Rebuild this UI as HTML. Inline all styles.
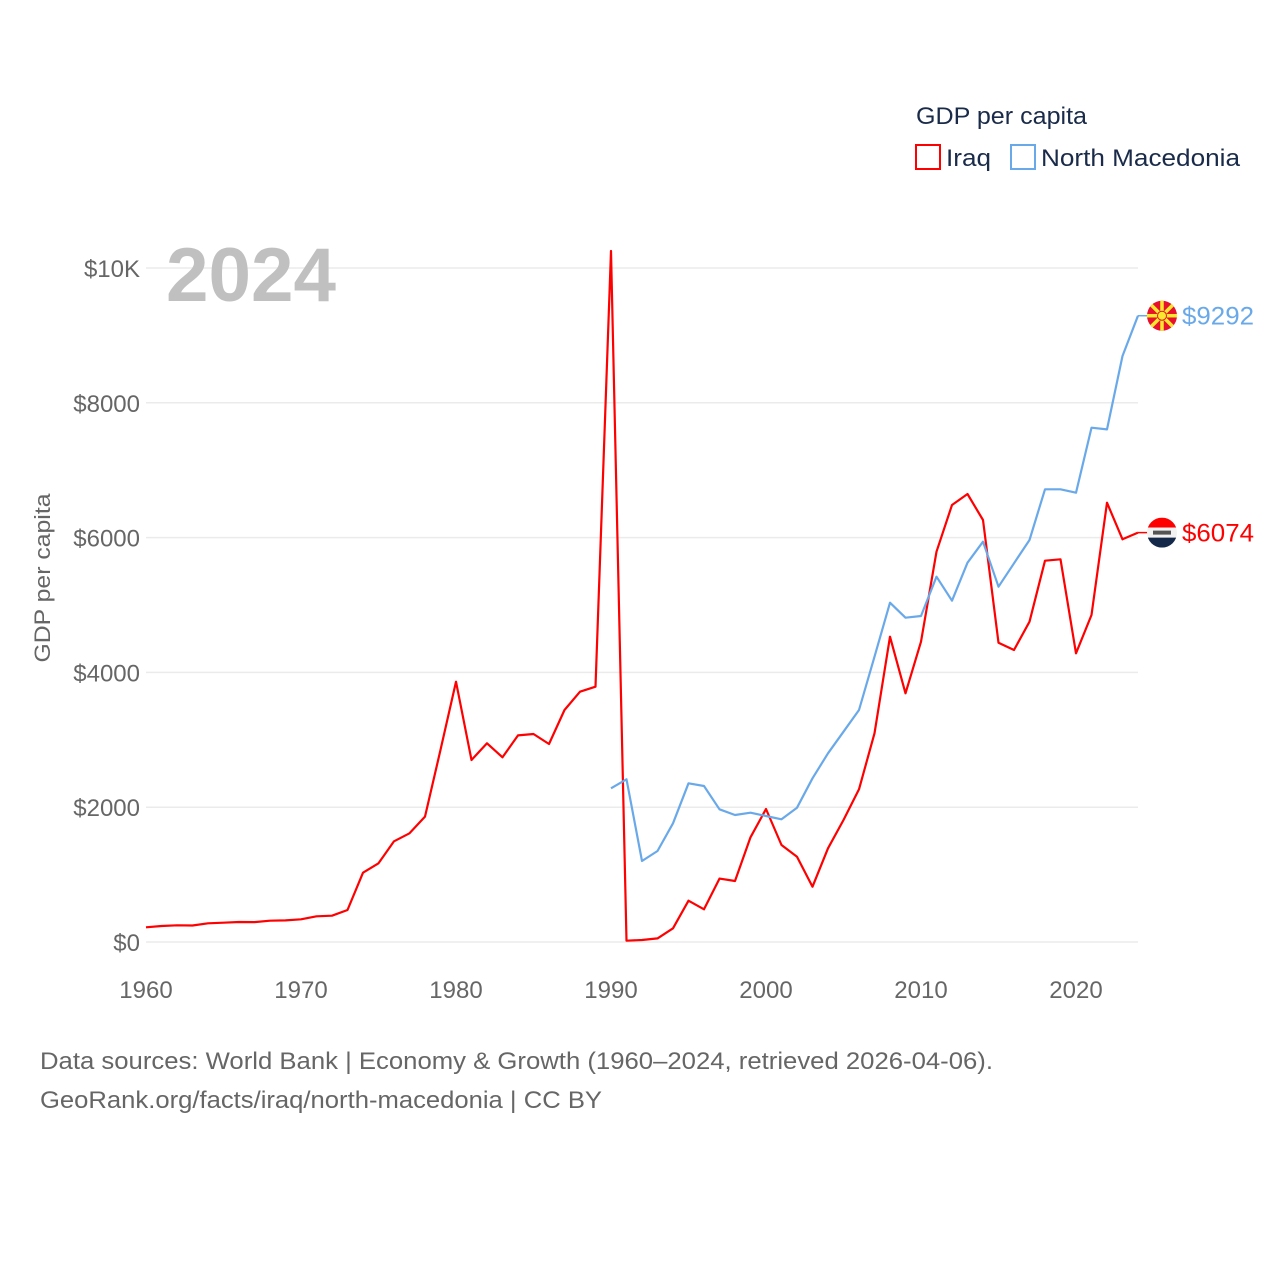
<!DOCTYPE html>
<html><head><meta charset="utf-8"><style>
html,body{margin:0;padding:0;background:#fff;}
svg{display:block;font-family:"Liberation Sans",sans-serif;}
</style></head><body>
<svg id="chart" width="1280" height="1280" viewBox="0 0 1280 1280">
<g id="grid"></g>
<g id="yticks"></g>
<g id="xticks"></g>
<text x="166" y="301" font-size="76" font-weight="bold" fill="#c0c0c0" textLength="170" lengthAdjust="spacingAndGlyphs">2024</text>
<text transform="translate(50,578) rotate(-90)" text-anchor="middle" font-size="22" fill="#666" textLength="169" lengthAdjust="spacingAndGlyphs">GDP per capita</text>
<g id="series"></g>
<g>
<text x="916" y="124" font-size="24" fill="#1a2b4a" textLength="171" lengthAdjust="spacingAndGlyphs">GDP per capita</text>
<g><rect x="916" y="145" width="24" height="24" fill="none" stroke="#f00" stroke-width="2"/><text x="946" y="166" font-size="24" fill="#1a2b4a" textLength="45" lengthAdjust="spacingAndGlyphs">Iraq</text></g>
<g><rect x="1011" y="145" width="24" height="24" fill="none" stroke="#6aa9e9" stroke-width="2"/><text x="1041" y="166" font-size="24" fill="#1a2b4a" textLength="199" lengthAdjust="spacingAndGlyphs">North Macedonia</text></g>
</g>
<text x="40" y="1069" font-size="24" fill="#666" textLength="953" lengthAdjust="spacingAndGlyphs">Data sources: World Bank | Economy &amp; Growth (1960–2024, retrieved 2026-04-06).</text>
<text x="40" y="1108" font-size="24" fill="#666" textLength="562" lengthAdjust="spacingAndGlyphs">GeoRank.org/facts/iraq/north-macedonia | CC BY</text>
</svg>
<script>
const iraqYears=[1960,1961,1962,1963,1964,1965,1966,1967,1968,1969,1970,1971,1972,1973,1974,1975,1976,1977,1978,1979,1980,1981,1982,1983,1984,1985,1986,1987,1988,1989,1990,1991,1992,1993,1994,1995,1996,1997,1998,1999,2000,2001,2002,2003,2004,2005,2006,2007,2008,2009,2010,2011,2012,2013,2014,2015,2016,2017,2018,2019,2020,2021,2022,2023,2024];
const iraqValues=[218,237,248,245,277,287,297,295,316,320,337,381,390,475,1028,1167,1494,1613,1860,2850,3862,2700,2948,2740,3066,3086,2938,3442,3714,3788,10252,20,30,54,203,613,485,940,905,1553,1973,1439,1266,821,1390,1810,2265,3096,4530,3690,4456,5791,6484,6647,6261,4441,4332,4752,5657,5678,4283,4852,6518,5975,6074];
const mkdYears=[1990,1991,1992,1993,1994,1995,1996,1997,1998,1999,2000,2001,2002,2003,2004,2005,2006,2007,2008,2009,2010,2011,2012,2013,2014,2015,2016,2017,2018,2019,2020,2021,2022,2023,2024];
const mkdValues=[2280,2414,1202,1350,1761,2355,2315,1969,1884,1919,1870,1820,1993,2429,2800,3120,3442,4233,5034,4812,4837,5420,5064,5628,5939,5272,5619,5964,6716,6716,6666,7631,7606,8694,9292];
const yTickValues=[0,2000,4000,6000,8000,10000];
const yTickLabels=["$0","$2000","$4000","$6000","$8000","$10K"];
const xTickValues=[1960,1970,1980,1990,2000,2010,2020];
const NS="http://www.w3.org/2000/svg";
const xS=y=>146+(y-1960)*15.5;
const yS=v=>942-v*0.0674;
function mk(tag,attrs,parent){const e=document.createElementNS(NS,tag);for(const k in attrs)e.setAttribute(k,attrs[k]);parent.appendChild(e);return e;}
const grid=document.getElementById('grid'),yt=document.getElementById('yticks'),xt=document.getElementById('xticks'),ser=document.getElementById('series');
yTickValues.forEach((v,i)=>{
 const l=mk('line',{x1:146,x2:1138,y1:yS(v),y2:yS(v),stroke:'#ebebeb','stroke-width':1.5},grid);
 
 
 const t=mk('text',{x:140,y:yS(v)+9,'text-anchor':'end','font-size':24,fill:'#666'},yt);
 t.textContent=yTickLabels[i];
 
 
});
xTickValues.forEach(v=>{
 const t=mk('text',{x:xS(v),y:998,'text-anchor':'middle','font-size':24,fill:'#666'},xt);
 t.textContent=v;
 
 
});
function line(years,vals,color,name){
 const d=years.map((y,i)=>(i?'L':'M')+xS(y).toFixed(1)+','+yS(vals[i]).toFixed(1)).join(' ');
 const p=mk('path',{d:d,fill:'none',stroke:color,'stroke-width':2.2,'stroke-linejoin':'round'},ser);
 
 
 const lv=vals[vals.length-1],ly=yS(lv),lx=xS(years[years.length-1]);
 const tail=mk('line',{x1:lx,x2:lx+10,y1:ly,y2:ly,stroke:color,'stroke-width':1.5},ser);
 
 
 const t=mk('text',{x:1182,y:ly+9,'font-size':25,fill:color,textLength:72,lengthAdjust:'spacingAndGlyphs'},ser);
 t.textContent='$'+lv;
 
 
 return ly;
}
const iy=line(iraqYears,iraqValues,'#ff0000','iraq-line');
const my=line(mkdYears,mkdValues,'#6aa9e9','north-macedonia-line');
const fm=mk('g',{},ser);


mk('circle',{cx:1162,cy:my,r:15,fill:'#e8112d'},fm);
for(let a=0;a<8;a++){const ang=a*Math.PI/4;mk('line',{x1:1162,y1:my,x2:1162+15*Math.cos(ang),y2:my+15*Math.sin(ang),stroke:'#f8e92e','stroke-width':3.5},fm);}
mk('circle',{cx:1162,cy:my,r:4.5,fill:'#f8e92e',stroke:'#e8112d','stroke-width':1},fm);
const fi=mk('g',{},ser);


mk('clipPath',{id:'ic'},fi);
mk('circle',{cx:1162,cy:iy,r:15},document.getElementById('ic'));
mk('rect',{x:1147,y:iy-15,width:30,height:10,fill:'#f00','clip-path':'url(#ic)'},fi);
mk('rect',{x:1147,y:iy-5,width:30,height:10,fill:'#f2f2f2','clip-path':'url(#ic)'},fi);
mk('rect',{x:1147,y:iy+5,width:30,height:10,fill:'#14284a','clip-path':'url(#ic)'},fi);
mk('rect',{x:1153,y:iy-2,width:18,height:4,fill:'#555'},fi);
</script>
</body></html>
